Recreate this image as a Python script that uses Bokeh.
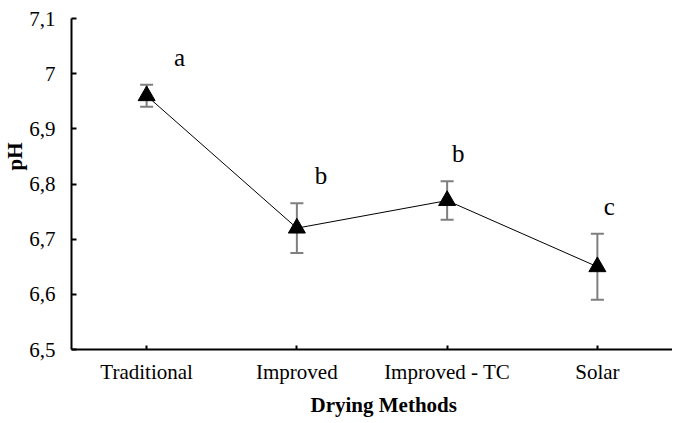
from bokeh.plotting import figure
from bokeh.models import ColumnDataSource, Whisker, TeeHead, Title, FactorRange, Range1d, FixedTicker
from bokeh.core.properties import value
from bokeh.embed import file_html
from bokeh.resources import INLINE

categories = ["Traditional", "Improved", "Improved - TC", "Solar"]
ph_mean = [6.96, 6.72, 6.77, 6.65]
ph_err = [0.02, 0.045, 0.035, 0.06]
letters = ["a", "b", "b", "c"]
letter_dx = [33, 24, 11, 12]
y_ticks = [6.5, 6.6, 6.7, 6.8, 6.9, 7.0, 7.1]
y_tick_labels = ["6,5", "6,6", "6,7", "6,8", "6,9", "7", "7,1"]

upper = [m + e for m, e in zip(ph_mean, ph_err)]
lower = [m - e for m, e in zip(ph_mean, ph_err)]
letter_y = [u + 0.05 for u in upper]

src = ColumnDataSource(dict(x=categories, y=ph_mean, upper=upper, lower=lower,
                            lab=letters, ly=letter_y, dx=letter_dx))

FONT = "Liberation Serif"
ERR = "#7f7f7f"

p = figure(width=672, height=422, x_range=FactorRange(factors=categories),
           y_range=Range1d(6.5, 7.1), output_backend="svg", toolbar_location=None,
           min_border_left=68, min_border_right=0, min_border_top=18, min_border_bottom=73)
p.outline_line_color = None
p.xgrid.grid_line_color = None
p.ygrid.grid_line_color = None
p.x_range.range_padding = 0

whisk = Whisker(base="x", upper="upper", lower="lower", source=src,
                line_color=ERR, line_width=2,
                upper_head=TeeHead(size=13, line_color=ERR, line_width=2),
                lower_head=TeeHead(size=13, line_color=ERR, line_width=2))
p.add_layout(whisk)

p.line("x", "y", source=src, line_color="black", line_width=1)
p.scatter("x", "y", source=src, marker="triangle", size=17, fill_color="black", line_color="black")

p.text("x", "ly", text="lab", source=src, x_offset="dx", text_font=value(FONT),
       text_font_size="25px", text_align="center", text_baseline="middle", text_color="black")

for ax in (p.xaxis[0], p.yaxis[0]):
    ax.axis_line_width = 2
    ax.axis_line_color = "black"
    ax.major_tick_line_width = 2
    ax.major_tick_line_color = "black"
    ax.major_tick_out = 0
    ax.minor_tick_out = 0
    ax.minor_tick_in = 0
    ax.major_label_text_font = FONT
    ax.major_label_text_font_size = "21px"
    ax.major_label_text_color = "black"

p.xaxis.major_tick_in = 4
p.xaxis.major_label_standoff = 10
p.yaxis.major_tick_in = 5
p.yaxis.major_label_standoff = 16
p.yaxis.ticker = FixedTicker(ticks=y_ticks)
p.yaxis.major_label_overrides = {t: l for t, l in zip(y_ticks, y_tick_labels)}

p.add_layout(Title(text="pH", align="right", offset=124, text_font=FONT,
                   text_font_size="21px", text_font_style="bold", text_color="black",
                   standoff=0), "left")
p.add_layout(Title(text="Drying Methods", align="left", offset=239, text_font=FONT,
                   text_font_size="21px", text_font_style="bold", text_color="black",
                   standoff=9), "below")

open("out.html", "w").write(file_html(p, INLINE))
